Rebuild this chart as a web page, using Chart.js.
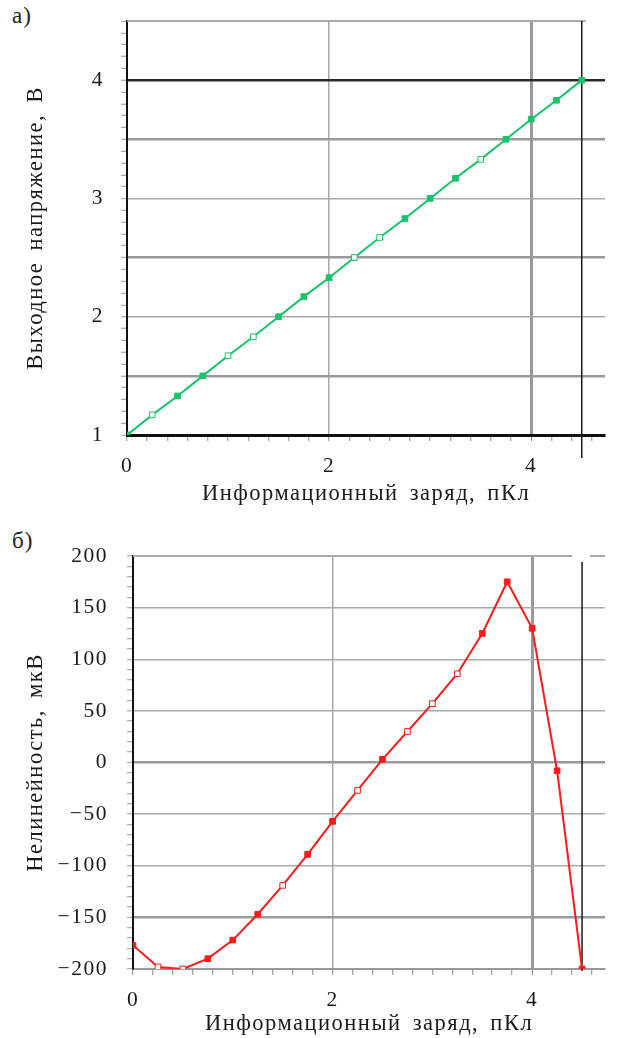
<!DOCTYPE html>
<html>
<head>
<meta charset="utf-8">
<script src="https://cdn.jsdelivr.net/npm/chart.js@4/dist/chart.umd.min.js"></script>
<style>
  body { margin: 0; background: #fff; width: 617px; height: 1038px; position: relative; overflow: hidden; font-family: "Liberation Serif", serif; }
  .panel { position: absolute; left: 0; width: 617px; }
  #wrapA { top: 0; height: 512px; }
  #wrapB { top: 512px; height: 526px; }
  .tag { position: absolute; left: 12px; font-size: 23px; color: #222; line-height: 1; letter-spacing: 1px; }
</style>
</head>
<body>
<div class="tag" style="top:4px">а)</div>
<div class="tag" style="top:529px">б)</div>
<div class="panel" id="wrapA"><canvas id="chartA" width="617" height="512"></canvas></div>
<div class="panel" id="wrapB"><canvas id="chartB" width="617" height="526"></canvas></div>
<script>
// ============================
// Data
// ============================
const charge = [0, 0.25, 0.5, 0.75, 1, 1.25, 1.5, 1.75, 2, 2.25, 2.5, 2.75, 3, 3.25, 3.5, 3.75, 4, 4.25, 4.5];
const voltage = [1.0, 1.17, 1.33, 1.5, 1.67, 1.83, 2.0, 2.17, 2.33, 2.5, 2.67, 2.83, 3.0, 3.17, 3.33, 3.5, 3.67, 3.83, 4.0];
const nonlin = [-177, -198, -200, -190, -172, -147, -119, -89, -57, -27, 3, 30, 57, 86, 125, 175, 130, -8, -200];

const chargeLabels = [0, 2, 4];
const voltLabels = [1, 2, 3, 4];
const nonlinLabels = [-200, -150, -100, -50, 0, 50, 100, 150, 200];

// markers drawn open in the scan (by index)
const voltHollow = [1, 4, 5, 9, 10, 14];
const nonlinHollow = [1, 2, 6, 9, 11, 12, 13];

const SERIF = "'Liberation Serif', 'Times New Roman', serif";
const NONE = "rgba(0,0,0,0)";
const TICK_FONT = { family: SERIF, size: 21.5 };
const TITLE_FONT = { family: SERIF, size: 22.5 };
const r1 = (v) => Math.round(v * 10) / 10;

// ============================
// Typesetting plugin: the scan has loose tracking
// ============================
const trackingPlugin = {
  id: "tracking",
  beforeLayout(chart) { chart.ctx.letterSpacing = "1.5px"; chart.ctx.wordSpacing = "4px"; },
  beforeDraw(chart) { chart.ctx.letterSpacing = "1.5px"; chart.ctx.wordSpacing = "4px"; }
};

// ============================
// Frame plugin: edge line at the last charge value + top border
// ============================
const framePlugin = {
  id: "frame",
  beforeDatasetsDraw(chart, args, opts) {
    const { ctx, chartArea } = chart;
    const xs = chart.scales.x;
    const edge = xs.getPixelForValue(charge[charge.length - 1]);
    ctx.save();
    // top border
    ctx.strokeStyle = "#a8a8a8";
    ctx.lineWidth = 2;
    ctx.beginPath();
    if (opts.gap) {
      ctx.moveTo(chartArea.left, chartArea.top);
      ctx.lineTo(edge - 10, chartArea.top);
      ctx.moveTo(edge + 8, chartArea.top);
      ctx.lineTo(chartArea.right, chartArea.top);
    } else {
      ctx.moveTo(chartArea.left, chartArea.top);
      ctx.lineTo(edge + 4, chartArea.top);
    }
    ctx.stroke();
    // black edge line
    ctx.strokeStyle = "#1a1a1a";
    ctx.lineWidth = 1.5;
    ctx.beginPath();
    ctx.moveTo(edge, chartArea.top + (opts.gap ? 6 : 0));
    ctx.lineTo(edge, chartArea.bottom + (opts.below || 0));
    ctx.stroke();
    ctx.restore();
  }
};

// fixed width for the value axis, no extra label padding above/below
function fixY(width) {
  return (s) => { s.width = width; s.paddingTop = 0; s.paddingBottom = 0; };
}

function xScale(axisColor, axisWidth, boxHeight, titlePad, labelPad) {
  return {
    type: "linear",
    min: 0,
    max: 4.73,
    afterFit: (s) => { s.height = boxHeight; },
    border: { color: axisColor, width: axisWidth },
    grid: {
      color: (c) => {
        const v = r1(c.tick.value);
        if (v === 2) return "#a8a8a8";
        if (v === 4) return "#999";
        return NONE;
      },
      lineWidth: (c) => (r1(c.tick.value) === 4 ? 3 : 1.5),
      tickLength: 6,
      tickWidth: 1,
      tickColor: (c) => {
        const v = r1(c.tick.value);
        return (Math.round(v * 10) % 2 === 0 && v <= 4.6) ? "#888" : NONE;
      }
    },
    ticks: {
      stepSize: 0.1,
      autoSkip: false,
      maxRotation: 0,
      padding: labelPad,
      color: "#1a1a1a",
      font: TICK_FONT,
      callback: (v) => (chargeLabels.includes(r1(v)) ? String(r1(v)) : "")
    },
    title: {
      display: true,
      text: "Информационный заряд, пКл",
      color: "#1a1a1a",
      font: TITLE_FONT,
      padding: { top: 0, bottom: titlePad }
    }
  };
}

// ============================
// Chart а): output voltage
// ============================
new Chart(document.getElementById("chartA"), {
  type: "line",
  data: {
    datasets: [{
      data: charge.map((q, i) => ({ x: q, y: voltage[i] })),
      borderColor: "#17c46a",
      borderWidth: 2,
      pointStyle: "rect",
      pointRadius: 4,
      pointBorderWidth: 1,
      pointBorderColor: "#17c46a",
      pointBackgroundColor: (c) => (voltHollow.includes(c.dataIndex) ? "#fff" : "#17c46a"),
      tension: 0
    }]
  },
  options: {
    responsive: false,
    animation: false,
    events: [],
    layout: { padding: { top: 21, right: 3, left: 0, bottom: 0 } },
    plugins: { legend: { display: false }, tooltip: { enabled: false }, frame: { below: 23 } },
    scales: {
      x: xScale("#111", 3, 77, 4, 12),
      y: {
        min: 1,
        max: 4.5,
        afterFit: fixY(127),
        border: { color: "#111", width: 2 },
        grid: {
          color: (c) => {
            const v = r1(c.tick.value);
            if (v === 1.5 || v === 2.5 || v === 3.5) return "#999";
            if (v === 2 || v === 3) return "#aaa";
            if (v === 4) return "#2a2a2a";
            return NONE;
          },
          lineWidth: (c) => {
            const v = r1(c.tick.value);
            return (v === 2 || v === 3) ? 1.5 : 2.5;
          },
          tickLength: 6,
          tickWidth: 1,
          tickColor: "#999"
        },
        ticks: {
          stepSize: 0.1,
          autoSkip: false,
          padding: 17,
          color: "#1a1a1a",
          font: TICK_FONT,
          callback: (v) => (voltLabels.includes(r1(v)) ? String(r1(v)) : "")
        },
        title: {
          display: true,
          text: "Выходное напряжение, В",
          color: "#1a1a1a",
          font: TITLE_FONT,
          padding: { top: 23, bottom: 0 }
        }
      }
    }
  },
  plugins: [trackingPlugin, framePlugin]
});

// ============================
// Chart б): nonlinearity
// ============================
new Chart(document.getElementById("chartB"), {
  type: "line",
  data: {
    datasets: [{
      data: charge.map((q, i) => ({ x: q, y: nonlin[i] })),
      borderColor: "#ff1a1a",
      borderWidth: 2,
      pointStyle: "rect",
      pointRadius: 4,
      pointBorderWidth: 1,
      pointBorderColor: "#ff1a1a",
      pointBackgroundColor: (c) => (nonlinHollow.includes(c.dataIndex) ? "#fff" : "#ff1a1a"),
      tension: 0
    }]
  },
  options: {
    responsive: false,
    animation: false,
    events: [],
    layout: { padding: { top: 44, right: 9, left: 0, bottom: 0 } },
    plugins: { legend: { display: false }, tooltip: { enabled: false }, frame: { gap: true, below: 2 } },
    scales: {
      x: xScale("#999", 2, 69, 0, 12),
      y: {
        min: -200,
        max: 200,
        afterFit: fixY(133),
        border: { color: "#111", width: 2 },
        grid: {
          color: (c) => {
            const v = Math.round(c.tick.value);
            if (v === 0 || v === -150) return "#999";
            if (v % 50 === 0 && Math.abs(v) < 200) return "#aaa";
            return NONE;
          },
          lineWidth: (c) => {
            const v = Math.round(c.tick.value);
            return (v === 0 || v === -150) ? 2.5 : 1.5;
          },
          tickLength: 6,
          tickWidth: 1,
          tickColor: "#999"
        },
        ticks: {
          stepSize: 10,
          autoSkip: false,
          padding: 19,
          color: "#1a1a1a",
          font: TICK_FONT,
          callback: (v) => (nonlinLabels.includes(Math.round(v)) ? String(Math.round(v)).replace("-", "\u2212") : "")
        },
        title: {
          display: true,
          text: "Нелинейность, мкВ",
          color: "#1a1a1a",
          font: TITLE_FONT,
          padding: { top: 23, bottom: 0 }
        }
      }
    }
  },
  plugins: [trackingPlugin, framePlugin]
});
</script>
</body>
</html>
